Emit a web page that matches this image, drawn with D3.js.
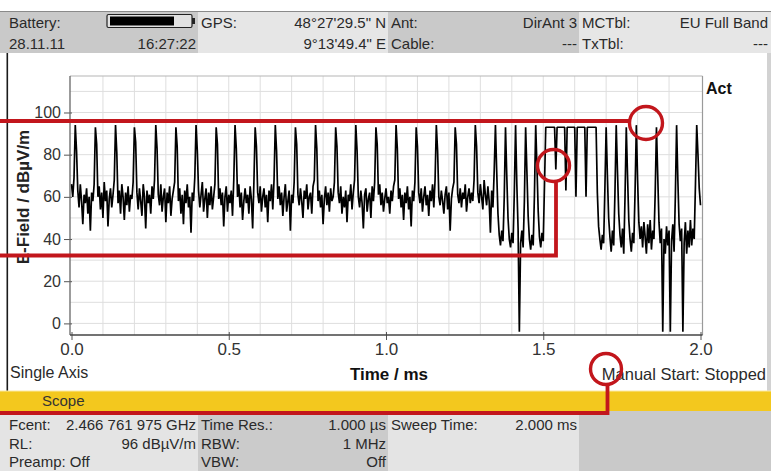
<!DOCTYPE html>
<html><head><meta charset="utf-8">
<script src="https://cdn.jsdelivr.net/npm/d3@7"></script>
<style>
html,body{margin:0;padding:0;background:#fff;overflow:hidden;}
svg{display:block;font-family:"Liberation Sans",Arial,sans-serif;}
</style></head>
<body><svg id="c" width="771" height="471"></svg>
<script>
// ---- data ----
const sweepTimeMs = 2.0;          // x domain end
const sampleStepMs = 0.004;       // one stored sample every 4 us
const fieldValues = [
  66, 60, 69,
  94, 82, 63, 55, 66, 58, 47, 61, 57, 64, 52, 60, 44, 62, 58, 66,
  93, 85, 60, 65, 54, 62, 50, 67, 58, 63, 46, 59, 64, 55, 61, 68,
  94, 81, 57, 63, 52, 66, 60, 49, 62, 56, 65, 53, 61, 59, 67,
  93, 86, 62, 54, 64, 58, 51, 66, 60, 45, 63, 57, 61, 52, 65, 59, 68,
  94, 83, 61, 56, 66, 53, 60, 64, 48, 62, 57, 65, 51, 59, 63, 67,
  93, 84, 58, 64, 52, 61, 47, 63, 57, 66, 55, 60, 43, 62, 58, 69,
  94, 82, 63, 55, 61, 67, 53, 59, 64, 50, 62, 56, 65, 54, 60, 66,
  93, 85, 59, 64, 56, 62, 46, 60, 65, 53, 61, 57, 63, 51, 68,
  94, 83, 60, 66, 55, 62, 49, 58, 64, 57, 61, 52, 65, 59, 45, 67,
  93, 84, 62, 57, 65, 53, 60, 64, 55, 61, 48, 63, 58, 66, 54, 68,
  94, 82, 59, 65, 56, 62, 51, 60, 66, 53, 58, 63, 44, 61, 57, 67,
  93, 85, 61, 56, 64, 58, 50, 63, 59, 66, 54, 60, 62, 52, 65, 68,
  94, 83, 58, 63, 55, 61, 47, 59, 65, 56, 62, 53, 64, 58, 60, 67,
  93, 84, 62, 57, 65, 52, 60, 55, 63, 48, 61, 58, 66, 54, 62, 68,
  94, 82, 60, 55, 63, 57, 45, 61, 64, 53, 59, 62, 50, 65, 58, 67,
  93, 85, 61, 66, 56, 62, 53, 59, 64, 57, 60, 52, 63, 58, 65, 68,
  94, 83, 59, 64, 55, 61, 49, 62, 57, 65, 54, 60, 46, 63, 58, 67,
  93, 84, 62, 57, 64, 53, 60, 65, 56, 61, 51, 63, 58, 66, 55, 68,
  94, 82, 60, 56, 63, 58, 52, 61, 65, 54, 62, 44, 59, 64, 67,
  93, 85, 61, 57, 64, 55, 62, 59, 66, 53, 60, 64, 57, 62, 58, 68,
  94, 84, 62, 57, 66, 60, 54, 68, 61, 56, 65, 58, 43, 63, 55, 72,
  94, 72, 52, 42, 37, 44, 39, 60,
  93, 70, 50, 40, 36, 43, 38, 62,
  94, 66, 45, -4, 38, 44, 36, 58,
  93, 72, 51, 40, 35, 42, 37, 61,
  94, 74, 53, 41, 36, 43, 39, 66,
  93, 93, 93, 93, 93, 93, 93, 93,
  73, 93, 93, 93, 93, 93, 93, 93,
  63, 93, 93, 93, 93, 93, 93, 93,
  60, 93, 93, 93, 93, 93, 93, 93,
  60, 93, 93, 93, 93, 93, 93, 93,
  93, 62, 46, 40, 35, 42, 38, 64,
  93, 70, 50, 41, 34, 44, 37, 62,
  94, 72, 52, 42, 36, 45, 33, 60,
  93, 70, 49, 40, 34, 43, 38, 63,
  94, 68, 48, 40, 46, 36, 48, 41, 33, 47, 38, 49, 35, 44, 40, 62,
  93, 70, 48, 38, 45, -4, 40, 33, 46, 37, 44, -4, 39, 47, 34, 60,
  94, 68, 47, 39, 45, -4, 38, 48, 33, 44, 36, 49, 37, 45, 40, 66,
  94, 80, 64, 56
];
const xTickValues = [0, 0.5, 1.0, 1.5, 2.0];
const yTickValues = [0, 20, 40, 60, 80, 100];
const xGridValues = [0.1,0.2,0.3,0.4,0.5,0.6,0.7,0.8,0.9,1.0,1.1,1.2,1.3,1.4,1.5,1.6,1.7,1.8,1.9];
const yGridValues = [0,10,20,30,40,50,60,70,80,90,100,110];
const headerLeftTexts  = [["Battery:", "28.11.11"], ["GPS:", ""], ["Ant:", "Cable:"], ["MCTbl:", "TxTbl:"]];
const headerRightTexts = [["", "16:27:22"], ["48°27'29.5\" N", "9°13'49.4\" E"], ["DirAnt 3", "---"], ["EU Full Band", "---"]];
const footerLeftTexts  = [["Fcent:", "RL:", "Preamp: Off"], ["Time Res.:", "RBW:", "VBW:"], ["Sweep Time:", "", ""], ["", "", ""]];
const footerRightTexts = [["2.466 761 975 GHz", "96 dBµV/m", ""], ["1.000 µs", "1 MHz", "Off"], ["2.000 ms", "", ""], ["", "", ""]];

// ---- layout ----
const svg = d3.select("#c");
const W = 771, H = 471;
const colX = [0, 198, 388, 579, 771];
const plot = {l: 70, r: 702.5, t: 76, b: 335};
const x = d3.scaleLinear().domain([0, sweepTimeMs]).range([71.5, 700.5]);
const y = d3.scaleLinear().domain([-5.5, 117.3]).range([plot.b, plot.t]);
const txt = "#2a2a2a";

svg.append("rect").attr("width", W).attr("height", H).attr("fill", "#fff");

// header
const hdrFill = ["#c9c9c9", "#e6e6e6", "#c9c9c9", "#e6e6e6"];
for (let c = 0; c < 4; c++) {
  svg.append("rect").attr("x", colX[c]).attr("y", 11).attr("width", colX[c+1]-colX[c]).attr("height", 42).attr("fill", hdrFill[c]);
}
svg.append("line").attr("x1", 0).attr("x2", W).attr("y1", 11.5).attr("y2", 11.5).attr("stroke", "#8a8a8a").attr("stroke-width", 1);
const hdrBase = [28, 49];
for (let c = 0; c < 4; c++) {
  for (let r = 0; r < 2; r++) {
    svg.append("text").attr("x", colX[c] + (c === 0 ? 9 : 3)).attr("y", hdrBase[r]).attr("font-size", 15).attr("fill", txt).text(headerLeftTexts[c][r]);
    svg.append("text").attr("x", colX[c+1] - (c === 3 ? 3 : 2)).attr("y", hdrBase[r]).attr("text-anchor", "end").attr("font-size", 15).attr("fill", txt).text(headerRightTexts[c][r]);
  }
}
// battery icon
svg.append("rect").attr("x", 107).attr("y", 14.5).attr("width", 85).attr("height", 13).attr("fill", "#e2e2e2").attr("stroke", "#222").attr("stroke-width", 1.2).attr("rx", 1.5);
svg.append("rect").attr("x", 110).attr("y", 16.5).attr("width", 64).attr("height", 9).attr("fill", "#000");
svg.append("rect").attr("x", 192).attr("y", 18).attr("width", 3).attr("height", 6).attr("fill", "#222");

// side borders
svg.append("rect").attr("x", 6.5).attr("y", 53).attr("width", 1.6).attr("height", 338).attr("fill", "#1a1a1a");
svg.append("rect").attr("x", 767).attr("y", 53).attr("width", 4).attr("height", 338).attr("fill", "#d2d2d2");

// grid
const g = svg.append("g");
g.selectAll(".vg").data(xGridValues).join("line")
  .attr("x1", d => x(d)).attr("x2", d => x(d)).attr("y1", plot.t).attr("y2", plot.b)
  .attr("stroke", "#dedede").attr("stroke-width", 1);
g.selectAll(".hg").data(yGridValues).join("line")
  .attr("x1", plot.l).attr("x2", plot.r).attr("y1", d => y(d)).attr("y2", d => y(d))
  .attr("stroke", "#dedede").attr("stroke-width", 1);
g.append("line").attr("x1", plot.l).attr("x2", plot.r).attr("y1", plot.t).attr("y2", plot.t).attr("stroke", "#b5b5b5");
g.append("line").attr("x1", plot.r).attr("x2", plot.r).attr("y1", plot.t).attr("y2", plot.b).attr("stroke", "#9a9a9a").attr("stroke-width", 1.2);

// trace
svg.append("clipPath").attr("id", "pc").append("rect").attr("x", plot.l).attr("y", plot.t).attr("width", plot.r - plot.l).attr("height", plot.b - plot.t);
const line = d3.line().x((d, i) => x(i * sampleStepMs)).y(d => y(d));
svg.append("path").datum(fieldValues).attr("d", line).attr("clip-path", "url(#pc)")
  .attr("fill", "none").attr("stroke", "#000").attr("stroke-width", 1.7).attr("stroke-linejoin", "bevel");

// axes
const yAxis = d3.axisLeft(y).tickValues(yTickValues).tickSizeInner(6).tickSizeOuter(0).tickPadding(3).tickFormat(d3.format("d"));
const ya = svg.append("g").attr("transform", `translate(${plot.l},0)`).call(yAxis);
ya.select(".domain").remove();
ya.selectAll(".tick line").attr("stroke", "#555").attr("x2", -6).attr("x1", 2);
ya.selectAll(".tick text").attr("font-size", 16).attr("fill", "#333").attr("font-family", "Liberation Sans, Arial, sans-serif");

const xAxis = d3.axisBottom(x).tickValues(xTickValues).tickSizeInner(5).tickSizeOuter(0).tickPadding(3).tickFormat(d3.format(".1f"));
const xa = svg.append("g").attr("transform", `translate(0,${plot.b})`).call(xAxis);
xa.select(".domain").remove();
xa.selectAll(".tick line").attr("stroke", "#555").attr("y1", -3).attr("y2", 5);
xa.selectAll(".tick text").attr("font-size", 17).attr("fill", "#333").attr("font-family", "Liberation Sans, Arial, sans-serif");

svg.append("line").attr("x1", plot.l).attr("x2", plot.l).attr("y1", plot.t).attr("y2", plot.b).attr("stroke", "#666").attr("stroke-width", 1.3);
svg.append("line").attr("x1", plot.l).attr("x2", plot.r).attr("y1", plot.b).attr("y2", plot.b).attr("stroke", "#444").attr("stroke-width", 1.3);

// chart labels
svg.append("text").attr("x", 706).attr("y", 94).attr("font-size", 16).attr("font-weight", "bold").attr("fill", "#111").text("Act");
svg.append("text").attr("transform", "translate(29,197) rotate(-90)").attr("text-anchor", "middle")
  .attr("font-size", 17).attr("font-weight", "bold").attr("fill", "#222").text("E-Field / dBµV/m");
svg.append("text").attr("x", 10).attr("y", 378).attr("font-size", 16).attr("fill", txt).text("Single Axis");
svg.append("text").attr("x", 389).attr("y", 380).attr("text-anchor", "middle").attr("font-size", 17).attr("font-weight", "bold").attr("fill", "#111").text("Time / ms");
svg.append("text").attr("x", 766).attr("y", 380).attr("text-anchor", "end").attr("font-size", 16.5).attr("fill", txt).text("Manual Start: Stopped");

// footer
svg.append("rect").attr("x", 0).attr("y", 391).attr("width", W).attr("height", 20).attr("fill", "#f3c81e");
svg.append("line").attr("x1", 0).attr("x2", W).attr("y1", 391).attr("y2", 391).attr("stroke", "#fbe9a0").attr("stroke-width", 1);
svg.append("text").attr("x", 42).attr("y", 406).attr("font-size", 15).attr("fill", "#333").text("Scope");
const ftrFill = ["#e4e4e4", "#cbcbcb", "#e4e4e4", "#c9c9c9"];
for (let c = 0; c < 4; c++) {
  svg.append("rect").attr("x", colX[c]).attr("y", 411).attr("width", colX[c+1]-colX[c]).attr("height", 60).attr("fill", ftrFill[c]);
}
const ftrBase = [430, 449, 467];
for (let c = 0; c < 4; c++) {
  for (let r = 0; r < 3; r++) {
    svg.append("text").attr("x", colX[c] + (c === 0 ? 9 : 3)).attr("y", ftrBase[r]).attr("font-size", 15).attr("fill", txt).text(footerLeftTexts[c][r]);
    svg.append("text").attr("x", colX[c+1] - 2).attr("y", ftrBase[r]).attr("text-anchor", "end").attr("font-size", 15).attr("fill", txt).text(footerRightTexts[c][r]);
  }
}

// red annotation overlay
const red = "#c2161c";
const ann = svg.append("g").attr("fill", "none").attr("stroke", red).attr("stroke-width", 3.8);
ann.append("path").attr("d", "M0,121 H629");
ann.append("circle").attr("cx", 646).attr("cy", 123).attr("r", 16.5).attr("stroke-width", 3.4);
ann.append("path").attr("d", "M0,255.5 H556 V182");
ann.append("circle").attr("cx", 553.5).attr("cy", 165.5).attr("r", 16).attr("stroke-width", 3.4);
ann.append("path").attr("d", "M0,413 H607.5 V385");
ann.append("circle").attr("cx", 606).attr("cy", 369).attr("r", 15.5).attr("stroke-width", 3.4);
</script>
</body></html>
